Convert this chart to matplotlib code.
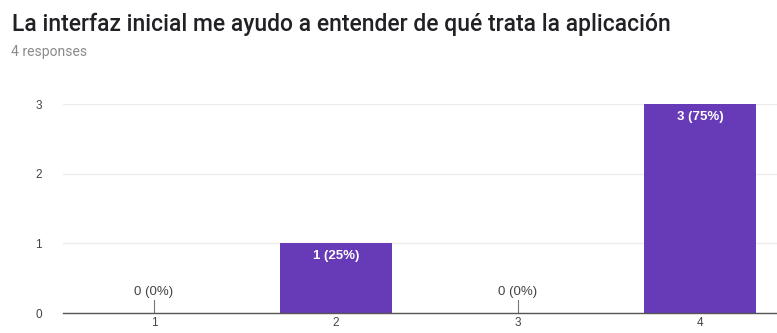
import matplotlib
matplotlib.use("Agg")
import matplotlib.pyplot as plt

categories = ["1", "2", "3", "4"]
counts = [0, 1, 0, 3]
labels = ["0 (0%)", "1 (25%)", "0 (0%)", "3 (75%)"]
title = "La interfaz inicial me ayudo a entender de qué trata la aplicación"
subtitle = "4 responses"

plt.rcParams["font.family"] = ["Liberation Sans", "DejaVu Sans"]

W, H = 777, 333
fig = plt.figure(figsize=(W / 100, H / 100), dpi=100)

# plot area in pixels (left, right, top, bottom); the right part runs past the canvas
left, right, top, bottom = 63, 791, 104, 313
ax = fig.add_axes([left / W, 1 - bottom / H, (right - left) / W, (bottom - top) / H])

x = list(range(len(categories)))
bars = ax.bar(x, counts, width=0.615, color="#673ab7", zorder=3)

ax.set_xlim(-0.5, len(categories) - 0.5)
ax.set_ylim(0, 3)
ax.set_yticks([0, 1, 2, 3])
ax.set_xticks(x)
ax.set_xticklabels(categories)
ax.grid(axis="y", color="#ececec", linewidth=1, zorder=0)
for s in ["top", "right", "left"]:
    ax.spines[s].set_visible(False)
ax.spines["bottom"].set_color("#555555")
ax.spines["bottom"].set_linewidth(1.0)
ax.spines["bottom"].set_zorder(4)
ax.tick_params(axis="both", length=0, labelsize=8.5, colors="#444444")
ax.tick_params(axis="y", pad=15)
ax.tick_params(axis="x", pad=3)

for xi, c, lab in zip(x, counts, labels):
    if c > 0:
        ax.annotate(lab, (xi, c), xytext=(0, -9), textcoords="offset points",
                    ha="center", va="center", color="white", fontsize=9.5,
                    fontweight="bold", zorder=5)
    else:
        ax.plot([xi, xi], [0, 0.18], color="#777777", linewidth=0.8, zorder=4)
        ax.annotate(lab, (xi, c), xytext=(0, 15), textcoords="offset points",
                    ha="center", va="center", color="#444444", fontsize=9.5, zorder=5)

fig.text(12 / W, 1 - 31 / H, title, fontsize=16.5, color="#202124", va="baseline",
         ha="left", family=["Roboto", "DejaVu Sans"], fontweight="medium")
fig.text(11 / W, 1 - 56 / H, subtitle, fontsize=10, color="#8a8a8a", va="baseline",
         ha="left", family=["Roboto", "DejaVu Sans"])

fig.savefig("out.png", dpi=100)
